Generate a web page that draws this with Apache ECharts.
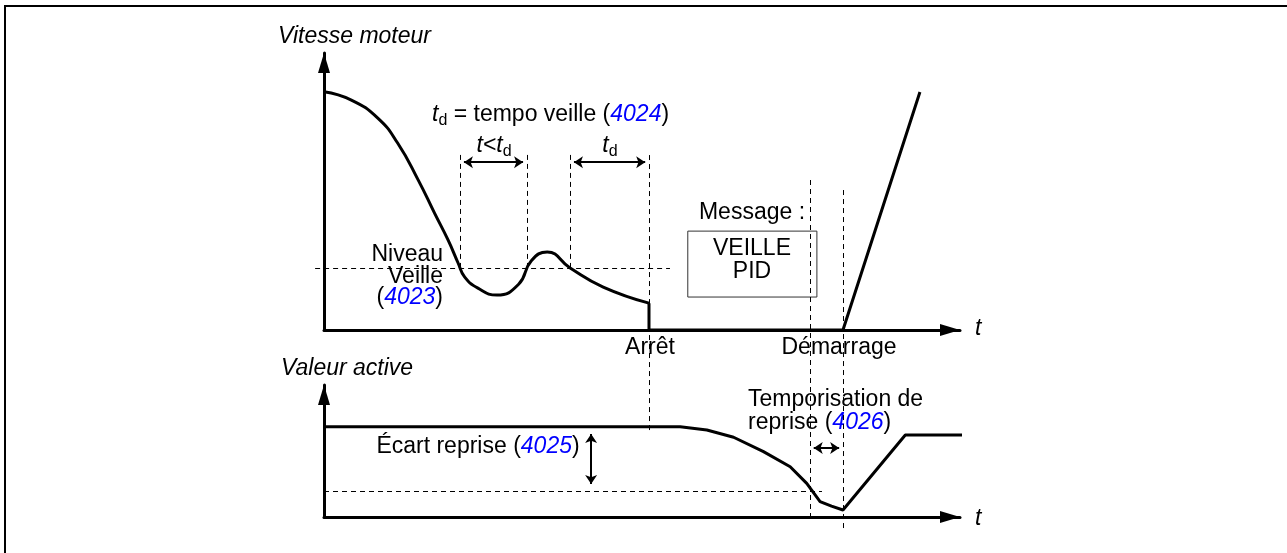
<!DOCTYPE html>
<html>
<head>
<meta charset="utf-8">
<script src="https://cdn.jsdelivr.net/npm/echarts@6/dist/echarts.min.js"></script>
<style>html,body{margin:0;background:#fff}#chart{width:1287px;height:553px}</style>
</head>
<body>
<div id="chart"></div>
<script>
// time runs 0..100 on both panels, speed and active value 0..100
var speedCurve = [[0,86.0],[4.3,83.0],[8.5,76.4],[11.6,67.4],[14.8,54.2],[17.4,42.1],[19.5,32.5],[21.1,24.1],[22.1,19.2],[24.2,15.1],[27.2,12.6],[30.6,16.5],[32.6,25.0],[35.1,28.2],[38.7,22.4],[43.9,15.5],[51.1,9.7]];
var speedStop = [[51.1,9.7],[51.1,0],[81.6,0],[93.7,85.9]];
var activeCurve = [[0,68.4],[56.0,68.4],[60.2,65.9],[64.4,60.4],[69.1,49.5],[73.3,38.1],[75.9,25.5],[78.0,11.6],[79.8,8.3],[81.6,5.3],[91.4,62.1],[101.1,62.1]];
var sleepLevel = 22.4;   // 4023
var wakeLevel = 19.7;    // 4025 deviation threshold
var tStop = 51.1, tWake = 76.4, tStart = 81.6;

// dashed guides, top panel
var topGuides = [
    [[-1.4, sleepLevel], [54.4, sleepLevel]],
    [[21.4, 63.2], [21.4, sleepLevel]],
    [[31.9, 63.2], [31.9, sleepLevel]],
    [[38.7, 63.2], [38.7, sleepLevel]]
];
// dashed guides drawn in bottom panel coords (they run up into the top panel)
var bottomGuides = [
    [[tStop, 274.2], [tStop, 64.4]],
    [[tWake, 255.3], [tWake, -2.3]],
    [[tStart, 247.7], [tStart, -9.8]],
    [[0, wakeLevel], [78.3, wakeLevel]]
];
var topArrows = [
    [[22.0, 60.6], [31.3, 60.6]],
    [[39.3, 60.6], [50.5, 60.6]]
];
var bottomArrows = [
    [[42.0, 62.9], [42.0, 25.0]],
    [[77.0, 52.3], [81.0, 52.3]]
];
var msgBox = [[57.2, 35.7], [77.5, 11.9]];

var FONT = '"Liberation Sans", Arial, sans-serif';
var BLUE = '#0000ff';
var rich = {
    n: {fontSize: 23, fontFamily: FONT, fill: '#000'},
    i: {fontSize: 23, fontFamily: FONT, fontStyle: 'italic', fill: '#000'},
    s: {fontSize: 16, fontFamily: FONT, fill: '#000', padding: [12, 0, 0, 0]},
    b: {fontSize: 23, fontFamily: FONT, fontStyle: 'italic', fill: BLUE}
};

function txt(x, y, text, align) {
    return {
        type: 'text', x: x, y: y, silent: true,
        style: {
            text: text, rich: rich, font: '23px ' + FONT, fill: '#000',
            align: align || 'left', textAlign: align || 'left',
            verticalAlign: 'middle', textVerticalAlign: 'middle'
        }
    };
}

function toLines(list) {
    return list.map(function (p) { return {coords: p}; });
}

var axisLine = {
    onZero: false,
    lineStyle: {color: '#000', width: 3},
    symbol: ['none', 'triangle'],
    symbolSize: [12, 20],
    symbolOffset: [0, -10]
};

function axis(i) {
    return {
        gridIndex: i, type: 'value', min: 0, max: 100,
        axisLine: axisLine,
        axisTick: {show: false},
        axisLabel: {show: false},
        splitLine: {show: false}
    };
}

var dash = {color: '#000', width: 1, type: [5, 4], opacity: 1};
var solid = {color: '#000', width: 3};

var option = {
    animation: false,
    grid: [
        {left: 324, top: 53, width: 636, height: 277},
        {left: 324, top: 385, width: 636, height: 132}
    ],
    xAxis: [axis(0), axis(1)],
    yAxis: [axis(0), axis(1)],
    series: [
        {
            name: 'guides top', type: 'lines', coordinateSystem: 'cartesian2d',
            xAxisIndex: 0, yAxisIndex: 0, clip: false, silent: true,
            symbol: 'none', lineStyle: dash, data: toLines(topGuides)
        },
        {
            name: 'guides bottom', type: 'lines', coordinateSystem: 'cartesian2d',
            xAxisIndex: 1, yAxisIndex: 1, clip: false, silent: true,
            symbol: 'none', lineStyle: dash, data: toLines(bottomGuides)
        },
        {
            name: 'arrows top', type: 'lines', coordinateSystem: 'cartesian2d',
            xAxisIndex: 0, yAxisIndex: 0, clip: false, silent: true,
            symbol: ['arrow', 'arrow'], symbolSize: 9,
            lineStyle: {color: '#000', width: 2, opacity: 1}, data: toLines(topArrows)
        },
        {
            name: 'arrows bottom', type: 'lines', coordinateSystem: 'cartesian2d',
            xAxisIndex: 1, yAxisIndex: 1, clip: false, silent: true,
            symbol: ['arrow', 'arrow'], symbolSize: 9,
            lineStyle: {color: '#000', width: 2, opacity: 1}, data: toLines(bottomArrows)
        },
        {
            name: 'speed', type: 'line', xAxisIndex: 0, yAxisIndex: 0,
            data: speedCurve, smooth: 0.5,
            symbol: 'none', clip: false, lineStyle: solid, z: 5,
            markArea: {
                silent: true,
                itemStyle: {color: 'rgba(0,0,0,0)', borderColor: '#333', borderWidth: 1},
                data: [[{coord: msgBox[0]}, {coord: msgBox[1]}]]
            }
        },
        {
            name: 'speed stop', type: 'line', xAxisIndex: 0, yAxisIndex: 0,
            data: speedStop, symbol: 'none', clip: false, lineStyle: solid, z: 5
        },
        {
            name: 'active', type: 'line', xAxisIndex: 1, yAxisIndex: 1,
            data: activeCurve, symbol: 'none', clip: false, lineStyle: solid, z: 5
        }
    ],
    graphic: [
        {
            type: 'rect', silent: true,
            shape: {x: 5, y: 6, width: 1300, height: 600},
            style: {fill: 'none', stroke: '#000', lineWidth: 2}
        },
        txt(278, 37, '{i|Vitesse moteur}'),
        txt(432, 115, '{i|t}{s|d}{n| = tempo veille (}{b|4024}{n|)}'),
        txt(494, 146, '{i|t<t}{s|d}', 'center'),
        txt(610, 146, '{i|t}{s|d}', 'center'),
        txt(443, 255, '{n|Niveau}', 'right'),
        txt(443, 277, '{n|Veille}', 'right'),
        txt(443, 298, '{n|(}{b|4023}{n|)}', 'right'),
        txt(752, 213, '{n|Message :}', 'center'),
        txt(752, 249, '{n|VEILLE}', 'center'),
        txt(752, 272, '{n|PID}', 'center'),
        txt(975, 329, '{i|t}'),
        txt(650, 348, '{n|Arrêt}', 'center'),
        txt(839, 348, '{n|Démarrage}', 'center'),
        txt(281, 369, '{i|Valeur active}'),
        txt(748, 400, '{n|Temporisation de}'),
        txt(748, 423, '{n|reprise (}{b|4026}{n|)}'),
        txt(478, 447, '{n|Écart reprise (}{b|4025}{n|)}', 'center'),
        txt(975, 519, '{i|t}')
    ]
};

var myChart = echarts.init(document.getElementById('chart'));
myChart.setOption(option);
</script>
</body>
</html>
